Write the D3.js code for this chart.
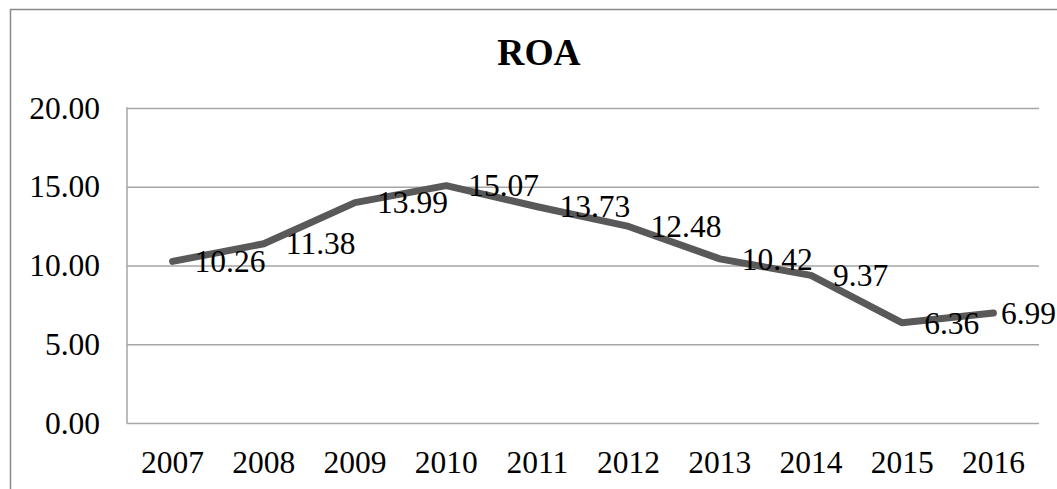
<!DOCTYPE html>
<html>
<head>
<meta charset="utf-8">
<script src="https://cdn.jsdelivr.net/npm/d3@7/dist/d3.min.js"></script>
<style>
  html, body { margin: 0; padding: 0; background: #fff; }
  svg { display: block; }
  svg text { font-family: "Liberation Serif", "Times New Roman", serif; }
</style>
</head>
<body>
<svg id="chart" width="1057" height="489"></svg>
<script>
// ROA by year
const years = ["2007", "2008", "2009", "2010", "2011", "2012", "2013", "2014", "2015", "2016"];
const roa = [10.26, 11.38, 13.99, 15.07, 13.73, 12.48, 10.42, 9.37, 6.36, 6.99];
const yTicks = [0, 5, 10, 15, 20];
const title = "ROA";

const W = 1057;
const svg = d3.select("#chart");

// chart frame (extends past the right and bottom edges)
const frame = { left: 10, top: 9, right: 1068, bottom: 500 };
svg.append("rect")
  .attr("x", frame.left + 0.5).attr("y", frame.top + 0.5)
  .attr("width", frame.right - frame.left).attr("height", frame.bottom - frame.top)
  .attr("fill", "#fff").attr("stroke", "#898989").attr("stroke-width", 1.5);

const plot = { left: 127, right: 1039, top: 108, bottom: 423 };

const x = d3.scaleBand().domain(years).range([plot.left, plot.right]);
const y = d3.scaleLinear().domain([0, 20]).range([plot.bottom, plot.top]);

// title
svg.append("text")
  .attr("x", (frame.left + frame.right) / 2).attr("y", 65)
  .attr("text-anchor", "middle")
  .attr("font-size", 37.5).attr("font-weight", "bold").attr("fill", "#000")
  .text(title);

// horizontal gridlines + y tick labels
const yAxis = svg.append("g")
  .attr("transform", `translate(${plot.left},0)`)
  .call(d3.axisLeft(y).tickValues(yTicks).tickFormat(d3.format(".2f"))
    .tickSize(-(plot.right - plot.left)).tickPadding(27));
yAxis.select(".domain").remove();
yAxis.selectAll(".tick line").attr("stroke", "#a6a6a6").attr("stroke-width", 1.5);
yAxis.selectAll(".tick text").attr("font-size", 31.5).attr("fill", "#000");

// left axis line
svg.append("line")
  .attr("x1", plot.left).attr("x2", plot.left)
  .attr("y1", plot.top - 0.75).attr("y2", plot.bottom + 0.75)
  .attr("stroke", "#a6a6a6").attr("stroke-width", 1.5);

// x axis labels
const xAxis = svg.append("g")
  .attr("transform", `translate(0,${plot.bottom})`)
  .call(d3.axisBottom(x).tickSize(0).tickPadding(28));
xAxis.select(".domain").remove();
xAxis.selectAll(".tick text").attr("font-size", 31.5).attr("fill", "#000");

// series line
const pts = years.map((yr, i) => ({ yr, v: roa[i] }));
const line = d3.line()
  .x(d => x(d.yr) + x.bandwidth() / 2)
  .y(d => y(d.v));
svg.append("path")
  .datum(pts)
  .attr("d", line)
  .attr("fill", "none")
  .attr("stroke", "#595959")
  .attr("stroke-width", 7)
  .attr("stroke-linejoin", "round")
  .attr("stroke-linecap", "round");

// data labels, placed to the right of each point and kept inside the view
const labels = svg.append("g")
  .attr("font-size", 31.5).attr("fill", "#000");
labels.selectAll("text")
  .data(pts)
  .join("text")
  .attr("y", d => y(d.v))
  .attr("dy", "0.34em")
  .text(d => d3.format(".2f")(d.v))
  .attr("x", function (d) {
    const px = x(d.yr) + x.bandwidth() / 2 + 22;
    const w = this.getComputedTextLength();
    return Math.min(px, W - 1 - w);
  });
</script>
</body>
</html>
